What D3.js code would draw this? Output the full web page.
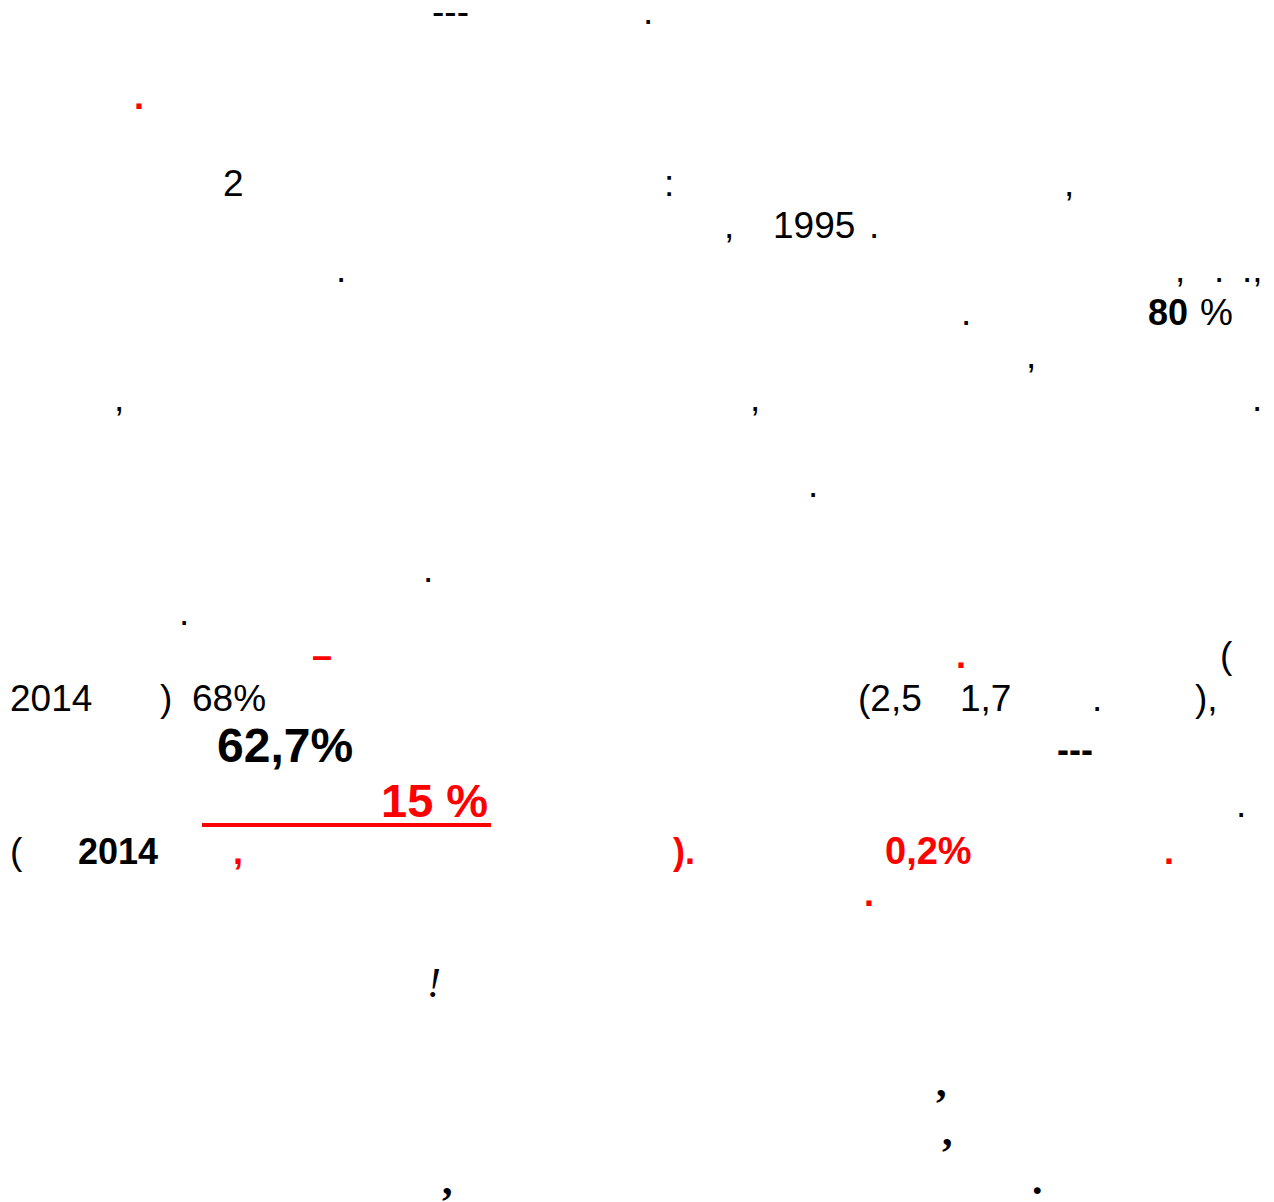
<!DOCTYPE html>
<html>
<head>
<meta charset="utf-8">
<script src="https://cdn.jsdelivr.net/npm/d3@7"></script>
<style>
  html, body { margin: 0; padding: 0; background: #fff; }
  svg { display: block; }
</style>
</head>
<body>
<svg class="page"></svg>
<script>
// What survived of the page: only digits, latin punctuation and signs
// show up, the rest of the text rendered as nothing.
// each line: baseline and its fragments [x, text, style]
const lineBaselines = [24, 109, 196, 238, 282, 325, 368, 411, 497, 582, 625, 668, 711, 762, 817, 864, 906, 997, 1096, 1145, 1194]

const lineFragments = [
  [[432, "---", "r"], [643, ".", "r"]],
  [[134, ".", "rb"]],
  [[223, "2", "r"], [664, ":", "r"], [1064, ",", "r"]],
  [[724, ",", "r"], [773, "1995", "r"], [869, ".", "r"]],
  [[336, ".", "r"], [1175, ",", "r"], [1214, ".", "r"], [1242, ".,", "r"]],
  [[961, ".", "r"], [1148, "80", "b"], [1200, "%", "r"]],
  [[1026, ",", "r"]],
  [[114, ",", "r"], [750, ",", "r"], [1252, ".", "r"]],
  [[808, ".", "r"]],
  [[423, ".", "r"]],
  [[179, ".", "r"]],
  [[312, "–", "rb"], [956, ".", "rb"], [1220, "(", "r"]],
  [[10, "2014", "r"], [160, ")", "r"], [192, "68%", "r"], [858, "(2,5", "r"], [960, "1,7", "r"], [1092, ".", "r"], [1195, "),", "r"]],
  [[217, "62,7%", "big"], [1057, "---", "b"]],
  [[381, "15 %", "redbig"], [1236, ".", "r"]],
  [[10, "(", "r"], [78, "2014", "b"], [233, ",", "rb"], [673, ").", "rb"], [885, "0,2%", "rbn"], [1164, ".", "rb"]],
  [[864, ".", "rb"]],
  [[427, "!", "it"]],
  [[936, ",", "sb"]],
  [[942, ",", "sb"]],
  [[442, ",", "sb"], [1032, ".", "sb"]]
]

// the one underlined run, line 14
const underline = { line: 14, x0: 202, x1: 491 }

const sans = "'Liberation Sans', Arial, sans-serif"
const serif = "'Liberation Serif', 'Times New Roman', serif"
const styles = {
  r:      { family: sans, size: 37, weight: "normal", italic: false, color: "#000" },
  b:      { family: sans, size: 36, weight: "bold", italic: false, color: "#000" },
  rb:     { family: sans, size: 36, weight: "bold", italic: false, color: "#ff0000" },
  rbn:    { family: sans, size: 38, weight: "bold", italic: false, color: "#ff0000" },
  big:    { family: sans, size: 48, weight: "bold", italic: false, color: "#000" },
  redbig: { family: sans, size: 47, weight: "bold", italic: false, color: "#ff0000" },
  it:     { family: serif, size: 42, weight: "normal", italic: true, color: "#000" },
  sb:     { family: serif, size: 42, weight: "bold", italic: false, color: "#000" }
}

const width = 1274, height = 1202

const svg = d3.select("svg.page")
  .attr("width", width)
  .attr("height", height)
  .attr("viewBox", [0, 0, width, height])

// line index -> baseline
const y = d3.scaleOrdinal()
  .domain(d3.range(lineBaselines.length))
  .range(lineBaselines)

const flat = lineFragments.flatMap((frags, i) =>
  frags.map(([x, text, st]) => ({ line: i, x, text, st })))

svg.append("g")
  .selectAll("text")
  .data(flat)
  .join("text")
  .attr("x", d => d.x)
  .attr("y", d => y(d.line))
  .attr("font-family", d => styles[d.st].family)
  .attr("font-size", d => styles[d.st].size)
  .attr("font-weight", d => styles[d.st].weight)
  .attr("font-style", d => styles[d.st].italic ? "italic" : "normal")
  .attr("fill", d => styles[d.st].color)
  .style("white-space", "pre")
  .text(d => d.text)

svg.append("rect")
  .attr("x", underline.x0)
  .attr("y", y(underline.line) + 6)
  .attr("width", underline.x1 - underline.x0)
  .attr("height", 4)
  .attr("fill", "#ff0000")
</script>
</body>
</html>
